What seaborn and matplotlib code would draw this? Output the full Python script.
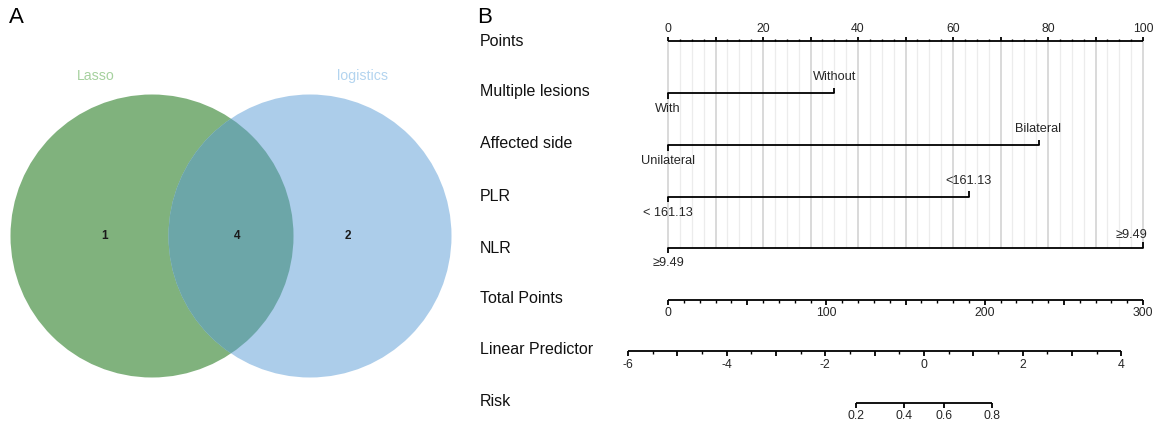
import numpy as np
import pandas as pd
import matplotlib
matplotlib.use("Agg")
import matplotlib.pyplot as plt
from matplotlib.patches import Circle
import seaborn as sns

# ---------------- data ----------------
venn_names = ["Lasso", "logistics"]
venn_counts = [1, 4, 2]            # Lasso only, both, logistics only

nomo_vars = ["Multiple lesions", "Affected side", "PLR", "NLR"]
level_zero = ["With", "Unilateral", "< 161.13", "≥9.49"]
level_other = ["Without", "Bilateral", "<161.13", "≥9.49"]
level_points = [35.0, 78.0, 63.3, 100.0]

row_names = ["Points", "Multiple lesions", "Affected side", "PLR", "NLR",
             "Total Points", "Linear Predictor", "Risk"]
points_labels = [0, 20, 40, 60, 80, 100]
total_labels = [0, 100, 200, 300]
lp_labels = [-6, -4, -2, 0, 2, 4]
risk_labels = [0.2, 0.4, 0.6, 0.8]
lp_at_total0 = -5.187
lp_per_total = 0.03208

# ---------------- style ----------------
sns.set_theme(style="white")
plt.rcParams['font.family'] = ['Liberation Sans', 'DejaVu Sans']

W, H = 1157, 425
fig = plt.figure(figsize=(W / 100, H / 100), dpi=100)

# ---------------- panel A : Venn ----------------
axv = fig.add_axes([0, 0, 1, 1])
axv.set_xlim(0, W)
axv.set_ylim(H, 0)
axv.axis('off')
axv.patch.set_alpha(0)

green, blue, mix = "#80B27D", "#ACCDEA", "#6CA6A8"
c_left = (152, 236)
c_right = (310, 236)
rad = 141.5
cl = Circle(c_left, rad, facecolor=green, edgecolor="none", zorder=1)
cr = Circle(c_right, rad, facecolor=blue, edgecolor="none", zorder=2)
axv.add_patch(cl)
axv.add_patch(cr)
cm = Circle(c_right, rad, facecolor=mix, edgecolor="none", zorder=3)
axv.add_patch(cm)
cm.set_clip_path(Circle(c_left, rad, transform=axv.transData))

axv.text(96, 76, venn_names[0], color="#A6D19F", fontsize=10.2, ha="center", va="center")
axv.text(362, 76, venn_names[1], color="#B3D4EF", fontsize=10.2, ha="center", va="center")
for xp, n in zip([105, 237, 348], venn_counts):
    axv.text(xp, 236, str(n), fontsize=8.5, fontweight="bold", color="#1a1a1a",
             ha="center", va="center", zorder=5)

axv.text(9, 17, "A", fontsize=16, ha="left", va="center", color="black")
axv.text(477, 17, "B", fontsize=16, ha="left", va="center", color="black")

# row labels
rows_y = [41.3, 93.3, 145.0, 196.7, 247.5, 299.7, 351.2, 402.5]
label_y = [41, 91, 144, 196.7, 248.3, 298.3, 350, 401.7]
for name, yy in zip(row_names, label_y):
    axv.text(480, yy, name, fontsize=11.5, ha="left", va="center", color="#111111")

# ---------------- panel B : nomogram ----------------
x0_px, x100_px = 668, 1143
ppx = (x100_px - x0_px) / 100.0
axn = fig.add_axes([0, 0, 1, 1])
axn.patch.set_alpha(0)

total_max = total_labels[-1]
def total_to_x(t):
    return np.asarray(t, dtype=float) * 100.0 / total_max
def lp_to_x(lp):
    return total_to_x((np.asarray(lp, dtype=float) - lp_at_total0) / lp_per_total)
def risk_to_x(p):
    p = np.asarray(p, dtype=float)
    return lp_to_x(np.log(p / (1 - p)))

LW = 1.3
TK = 9.2

# grid
grid_minor = np.arange(0, 100.01, 2.5)
grid_major = np.arange(0, 100.01, 10)
axn.vlines([g for g in grid_minor if g % 10 != 0], rows_y[0], rows_y[4],
           color="#ECECEC", lw=0.9, zorder=0)
axn.vlines(grid_major, rows_y[0], rows_y[4], color="#CFCFCF", lw=1.1, zorder=0)

# Points axis (ticks up, labels above)
yP = rows_y[0]
axn.plot([0, 100], [yP, yP], color="black", lw=LW, solid_capstyle="butt", zorder=3)
axn.vlines(grid_major, yP - 4, yP, color="black", lw=LW, zorder=3)
axn.vlines([g for g in grid_minor if g % 10 != 0], yP - 2.5, yP, color="black", lw=1.0, zorder=3)
for v in points_labels:
    axn.text(v, yP - 12, str(v), fontsize=8.8, ha="center", va="center")

# variable segments through seaborn
seg = pd.DataFrame({
    "variable": np.repeat(nomo_vars, 2),
    "points": np.ravel([[0.0, p] for p in level_points]),
    "y": np.repeat(rows_y[1:5], 2),
})
sns.lineplot(data=seg, x="points", y="y", units="variable", estimator=None,
             sort=False, color="black", lw=LW, ax=axn, legend=False, zorder=3)
for i, var in enumerate(nomo_vars):
    yy = rows_y[1 + i]
    p = level_points[i]
    axn.vlines(0, yy, yy + 5.5, color="black", lw=LW, zorder=3)
    axn.vlines(p, yy - 5.5, yy, color="black", lw=LW, zorder=3)
    axn.text(0, yy + 16, level_zero[i], fontsize=TK, ha="center", va="center")
    if p >= 100:
        axn.text(p + 1.0, yy - 13, level_other[i], fontsize=TK, ha="right", va="center")
    else:
        axn.text(p, yy - 16, level_other[i], fontsize=TK, ha="center", va="center")

def bottom_scale(xmin, xmax, y, majors, minors, lab_x, labels, maj=5, mnr=3):
    axn.plot([xmin, xmax], [y, y], color="black", lw=LW, solid_capstyle="butt", zorder=3)
    axn.vlines(majors, y, y + maj, color="black", lw=LW, zorder=3)
    if len(minors):
        axn.vlines(minors, y, y + mnr, color="black", lw=1.0, zorder=3)
    for xx, lab in zip(lab_x, labels):
        axn.text(xx, y + 13.5, lab, fontsize=8.8, ha="center", va="center")

# Total points
t_all = np.arange(0, total_max + 0.1, 10)
bottom_scale(0, 100, rows_y[5],
             total_to_x([t for t in t_all if t % 50 == 0]),
             total_to_x([t for t in t_all if t % 50 != 0]),
             total_to_x(total_labels), [str(t) for t in total_labels])

# Linear predictor
lp_all = np.arange(lp_labels[0], lp_labels[-1] + 0.01, 0.5)
bottom_scale(lp_to_x(lp_labels[0]), lp_to_x(lp_labels[-1]), rows_y[6],
             lp_to_x([v for v in lp_all if v % 1 == 0]),
             lp_to_x([v for v in lp_all if v % 1 != 0]),
             lp_to_x(lp_labels), [str(v) for v in lp_labels])

# Risk
bottom_scale(risk_to_x(risk_labels[0]), risk_to_x(risk_labels[-1]), rows_y[7],
             risk_to_x(risk_labels), [],
             risk_to_x(risk_labels), [f"{v:.1f}" for v in risk_labels])

axn.set_xlim(-x0_px / ppx, (W - x0_px) / ppx)
axn.set_ylim(H, 0)
axn.axis('off')

fig.savefig("out.png", dpi=100, facecolor="white")
